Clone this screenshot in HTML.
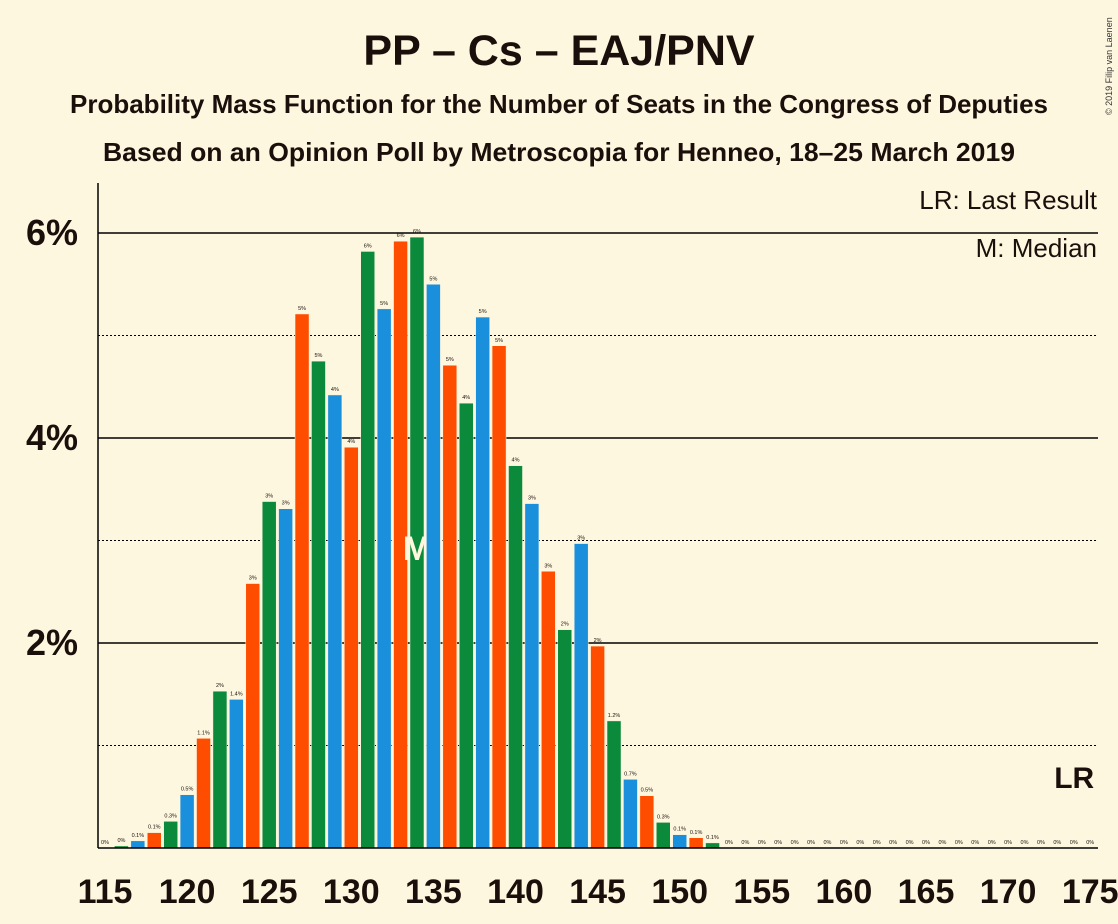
<!DOCTYPE html>
<html><head><meta charset="utf-8"><style>
body{margin:0;background:#fef7df;}
svg{display:block;font-family:"Liberation Sans",sans-serif;}
</style></head><body>
<svg id="c" width="1118" height="924">
<rect width="1118" height="924" fill="#fef7df"/>
<text x="559" y="65" text-anchor="middle" font-size="43" font-weight="bold" fill="#1a0f0a">PP – Cs – EAJ/PNV</text>
<text x="559" y="113" text-anchor="middle" font-size="26" font-weight="bold" fill="#1a0f0a" textLength="978" lengthAdjust="spacingAndGlyphs">Probability Mass Function for the Number of Seats in the Congress of Deputies</text>
<text x="559" y="161" text-anchor="middle" font-size="26" font-weight="bold" fill="#1a0f0a" textLength="912" lengthAdjust="spacingAndGlyphs">Based on an Opinion Poll by Metroscopia for Henneo, 18–25 March 2019</text>
<text x="1112" y="115" font-size="9" fill="#333" transform="rotate(-90 1112 115)">© 2019 Filip van Laenen</text>
<g id="grid"></g><g id="bars"></g><g id="axes"></g>
<text x="1097" y="209" text-anchor="end" font-size="26" fill="#1a0f0a">LR: Last Result</text>
<text x="1097" y="257" text-anchor="end" font-size="26" fill="#1a0f0a">M: Median</text>
</svg>
<script>
const seats=[115,116,117,118,119,120,121,122,123,124,125,126,127,128,129,130,131,132,133,134,135,136,137,138,139,140,141,142,143,144,145,146,147,148,149,150,151,152,153,154,155,156,157,158,159,160,161,162,163,164,165,166,167,168,169,170,171,172,173,174,175];
const probs=[0,0.02,0.07,0.15,0.26,0.52,1.07,1.53,1.45,2.58,3.38,3.31,5.21,4.75,4.42,3.91,5.82,5.26,5.92,5.96,5.50,4.71,4.34,5.18,4.90,3.73,3.36,2.70,2.13,2.97,1.97,1.24,0.67,0.51,0.25,0.13,0.10,0.05,0,0,0,0,0,0,0,0,0,0,0,0,0,0,0,0,0,0,0,0,0,0,0];
const labels=["0%","0%","0.1%","0.1%","0.3%","0.5%","1.1%","2%","1.4%","3%","3%","3%","5%","5%","4%","4%","6%","5%","6%","6%","5%","5%","4%","5%","5%","4%","3%","3%","2%","3%","2%","1.2%","0.7%","0.5%","0.3%","0.1%","0.1%","0.1%","0%","0%","0%","0%","0%","0%","0%","0%","0%","0%","0%","0%","0%","0%","0%","0%","0%","0%","0%","0%","0%","0%","0%"];
const yTicks=[2,4,6];
const yMinor=[1,3,5];
const xTicks=[115,120,125,130,135,140,145,150,155,160,165,170,175];
const median=134, lastResult=175;
const NS="http://www.w3.org/2000/svg";
const X=s=>105+(s-115)*16.42, Y=v=>848-v*102.5;
const cols={0:"#1a8fdc",1:"#ff4d00",2:"#0a8a3a"};
function mk(t,a,p){const e=document.createElementNS(NS,t);for(const k in a)e.setAttribute(k,a[k]);p.appendChild(e);return e;}
const grid=document.getElementById('grid'),bars=document.getElementById('bars'),axes=document.getElementById('axes');
yMinor.forEach(v=>{const l=mk('line',{x1:98,x2:1098,y1:Y(v),y2:Y(v),stroke:"#000","stroke-dasharray":"2,2","stroke-width":1},grid);

});
yTicks.forEach(v=>{const l=mk('line',{x1:98,x2:1098,y1:Y(v),y2:Y(v),stroke:"#000","stroke-width":1.5},grid);


const t=mk('text',{x:78,y:Y(v)+12,"text-anchor":"end","font-size":36,"font-weight":"bold",fill:"#1a0f0a"},axes);t.textContent=v+"%";

});
seats.forEach((s,i)=>{const v=probs[i];const x=X(s);
if(v>0){const r=mk('rect',{x:x-7,y:Y(v),width:14,height:848-Y(v),fill:cols[s%3],stroke:"#fef7df","stroke-width":0.5},bars);

}
const t=mk('text',{x:x,y:Y(v)-4,"text-anchor":"middle","font-size":5.5,fill:"#1a0f0a"},bars);t.textContent=labels[i];


if(s===median){const m=mk('text',{x:x,y:560,"text-anchor":"middle","font-size":34,"font-weight":"bold",fill:"#fef7df"},bars);m.textContent="M";

}
if(s===lastResult){const m=mk('text',{x:x-16,y:788,"text-anchor":"middle","font-size":30,"font-weight":"bold",fill:"#1a0f0a"},bars);m.textContent="LR";

}});
const ya=mk('line',{x1:98,x2:98,y1:183,y2:848,stroke:"#000","stroke-width":1.5},axes);


const xa=mk('line',{x1:98,x2:1098,y1:848,y2:848,stroke:"#000","stroke-width":1.5},axes);


xTicks.forEach(s=>{const t=mk('text',{x:X(s),y:903,"text-anchor":"middle","font-size":34,"font-weight":"bold",fill:"#1a0f0a"},axes);t.textContent=s;

});
</script>
</body></html>
